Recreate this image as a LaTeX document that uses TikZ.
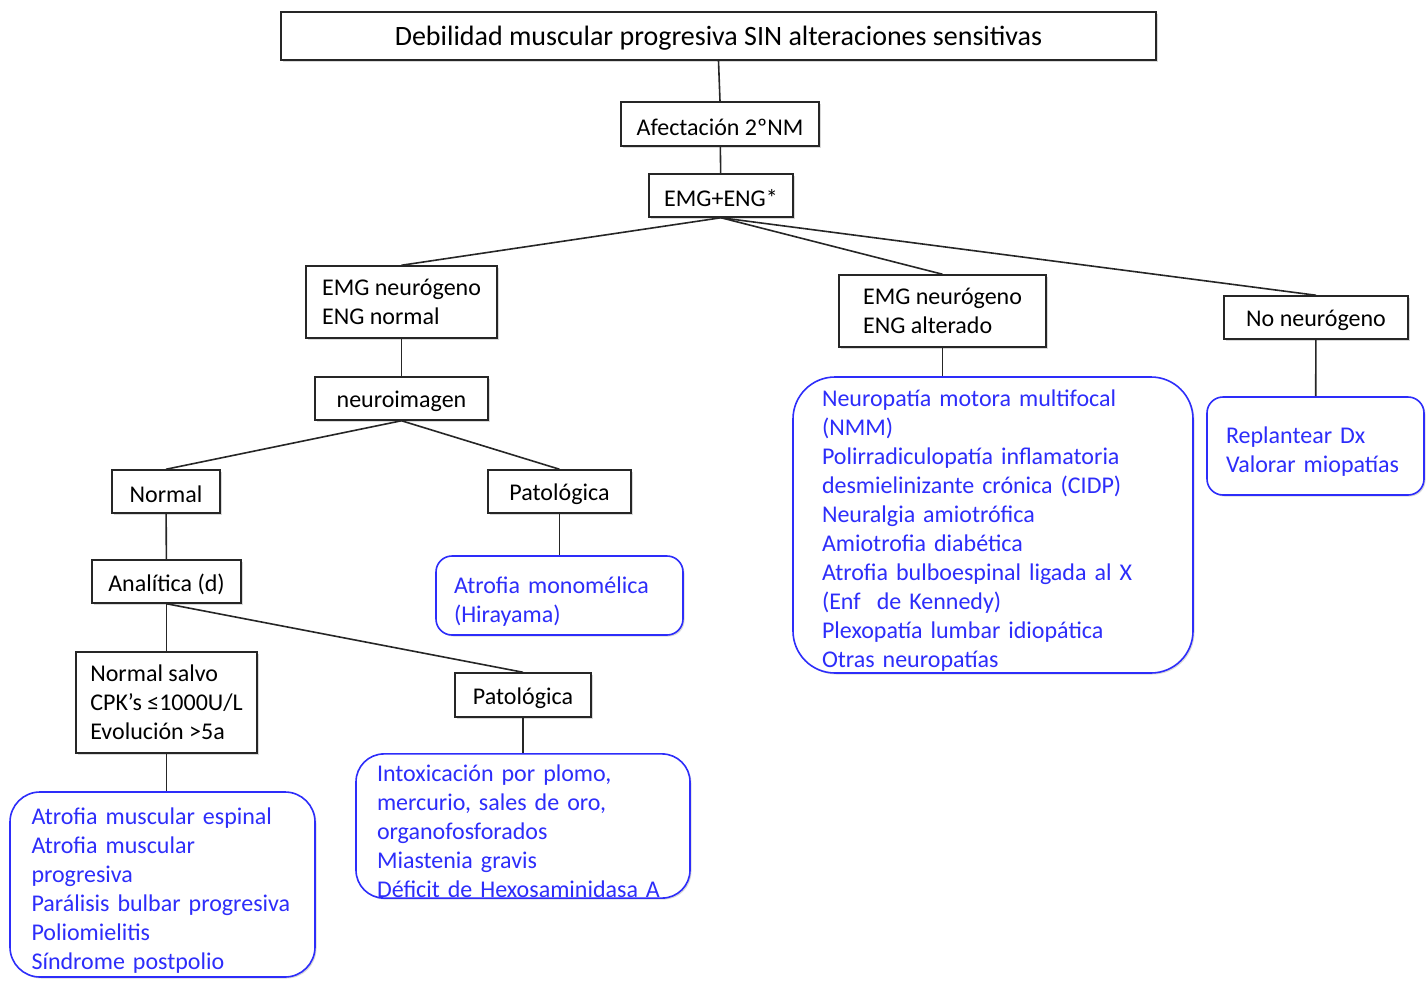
\documentclass[tikz,border=0pt]{standalone}
\usepackage{fontspec}
\setmainfont{Carlito}
\usetikzlibrary{shadows}
\definecolor{dxblue}{RGB}{45,45,250}

\begin{document}
\begin{tikzpicture}[x=1pt,y=-1pt,
  every node/.style={font=\fontsize{24}{29}\selectfont},
  box/.style={draw=black!85,line width=1.5pt,fill=white,inner sep=0pt,align=center,
    execute at begin node={\rule{0pt}{23pt}},
    drop shadow={shadow xshift=1.5pt,shadow yshift=-1.5pt,opacity=0.3}},
  dx/.style={draw=dxblue,text=dxblue,line width=1.6pt,fill=white,align=left,inner ysep=0pt,
    execute at begin node={\rule{0pt}{28pt}},
    drop shadow={shadow xshift=1.5pt,shadow yshift=-1.5pt,opacity=0.3}},
  link/.style={-,line width=1.6pt,black!85}]
  \useasboundingbox (0,0) rectangle (1426,985);

  \node[box,minimum width=875pt,minimum height=48pt,font=\fontsize{28}{32}\selectfont] (debil) at (718.5,36) {Debilidad muscular progresiva SIN alteraciones sensitivas};
  \node[box,minimum width=198pt,minimum height=44pt] (afect) at (720,124) {Afectación 2ºNM};
  \node[box,minimum width=144pt,minimum height=43pt] (emgeng) at (721,195.5) {EMG+ENG*};

  \node[box,minimum width=191pt,minimum height=72pt,align=left] (emgnorm) at (401.5,302) {EMG neurógeno\\ENG normal};
  \node[box,minimum width=207pt,minimum height=72pt,align=left] (emgalt) at (942.5,311) {EMG neurógeno\\ENG alterado};
  \node[box,minimum width=184pt,minimum height=43pt] (noneuro) at (1316,317.5) {No neurógeno};

  \node[box,minimum width=173pt,minimum height=43pt] (neuroim) at (401.5,398.5) {neuroimagen};
  \node[box,minimum width=108pt,minimum height=43pt] (normal) at (166,491.5) {Normal};
  \node[box,minimum width=143pt,minimum height=43pt] (patol) at (559.5,491.5) {Patológica};
  \node[box,minimum width=149pt,minimum height=43pt] (analit) at (166.5,581.5) {Analítica (d)};
  \node[box,minimum width=181pt,minimum height=101pt,align=left] (salvo) at (166.5,702.5) {Normal salvo\\CPK’s ≤1000U/L\\Evolución >5a};
  \node[box,minimum width=136pt,minimum height=44pt] (patol2) at (523,695) {Patológica};

  % resultados
  \node[dx,rounded corners=16pt,text width=211pt,inner xsep=18pt,minimum height=79pt] (monomel) at (559.5,595.5) {Atrofia monomélica\\(Hirayama)};
  \node[dx,rounded corners=30pt,text width=262pt,inner xsep=21.5pt,minimum height=185pt] (amesp) at (162.5,884.5) {Atrofia muscular espinal\\Atrofia muscular\\progresiva\\Parálisis bulbar progresiva\\Poliomielitis\\Síndrome postpolio};
  \node[dx,rounded corners=28pt,text width=292pt,inner xsep=21pt,minimum height=144pt] (intox) at (523,826) {Intoxicación por plomo,\\mercurio, sales de oro,\\organofosforados\\Miastenia gravis\\Déficit de Hexosaminidasa A};
  \node[dx,rounded corners=42pt,text width=342pt,inner xsep=29pt,minimum height=296pt] (neuropat) at (993,525) {Neuropatía motora multifocal\\(NMM)\\Polirradiculopatía inflamatoria\\desmielinizante crónica (CIDP)\\Neuralgia amiotrófica\\Amiotrofia diabética\\Atrofia bulboespinal ligada al X\\(Enf~ de Kennedy)\\Plexopatía lumbar idiopática\\Otras neuropatías};
  \node[dx,rounded corners=16pt,text width=179pt,inner xsep=19pt,minimum height=98pt] (replan) at (1315.5,446) {Replantear Dx\\Valorar miopatías};

  \path[link]
  (debil.south) edge (afect.north)
  (afect) edge (emgeng)
  (emgeng.south) edge (emgnorm.north)
  (emgeng.south) edge (emgalt.north)
  (emgeng.south) edge (noneuro.north)
  (emgnorm) edge (neuroim)
  (neuroim.south) edge (normal.north)
  (neuroim.south) edge (patol.north)
  (normal) edge (analit)
  (patol) edge (monomel)
  (analit.south) edge (salvo.north)
  (analit.south) edge (patol2.north)
  (salvo.south) edge (salvo.south |- amesp.north)
  (patol2) edge (intox)
  (emgalt.south) edge (emgalt.south |- neuropat.north)
  (noneuro) edge (replan);
\end{tikzpicture}
\end{document}
